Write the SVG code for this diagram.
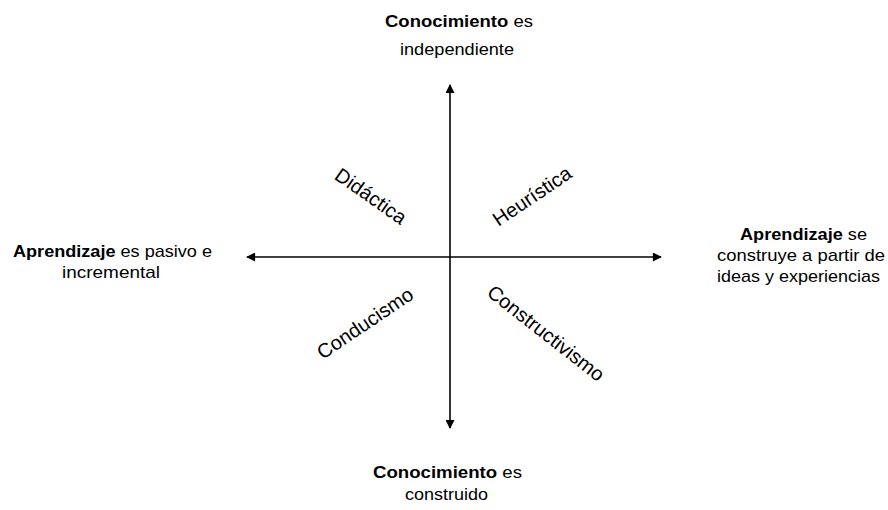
<svg xmlns="http://www.w3.org/2000/svg" width="888" height="510" viewBox="0 0 888 510">
<style>
text{font-family:"Liberation Sans",Arial,sans-serif;fill:#000}
.lbl{font-size:17px}
.b{font-weight:bold}
.q{font-size:20px;text-anchor:middle}
.ax{stroke:#000;stroke-width:1.6;fill:none}
</style>
<defs>
<marker id="ah" viewBox="0 0 10 10" refX="9" refY="5" markerWidth="10" markerHeight="9" markerUnits="userSpaceOnUse" orient="auto">
<path d="M0,0 L10,5 L0,10 Z" fill="#000"/>
</marker>
</defs>
<rect width="888" height="510" fill="#fff"/>
<g id="connectors">
<line class="ax" x1="450" y1="257" x2="450" y2="85" marker-end="url(#ah)"/>
<line class="ax" x1="450" y1="257" x2="450" y2="428" marker-end="url(#ah)"/>
<line class="ax" x1="450" y1="257" x2="247" y2="257" marker-end="url(#ah)"/>
<line class="ax" x1="450" y1="257" x2="661" y2="257" marker-end="url(#ah)"/>
</g>
<g id="top">
<text class="lbl" x="385" y="27" textLength="148" lengthAdjust="spacingAndGlyphs"><tspan class="b">Conocimiento</tspan>  es</text>
<text class="lbl" x="400" y="55" textLength="114" lengthAdjust="spacingAndGlyphs">independiente</text>
</g>
<g id="bottom">
<text class="lbl" x="373" y="478" textLength="149" lengthAdjust="spacingAndGlyphs"><tspan class="b">Conocimiento</tspan>  es</text>
<text class="lbl" x="405" y="500" textLength="83" lengthAdjust="spacingAndGlyphs">construido</text>
</g>
<g id="left">
<text class="lbl" x="13" y="257" textLength="199" lengthAdjust="spacingAndGlyphs"><tspan class="b">Aprendizaje</tspan> es pasivo e</text>
<text class="lbl" x="62" y="278" textLength="98" lengthAdjust="spacingAndGlyphs">incremental</text>
</g>
<g id="right">
<text class="lbl" x="740" y="240" textLength="127" lengthAdjust="spacingAndGlyphs"><tspan class="b">Aprendizaje</tspan> se</text>
<text class="lbl" x="717" y="261" textLength="168" lengthAdjust="spacingAndGlyphs">construye a partir de</text>
<text class="lbl" x="717" y="282" textLength="163" lengthAdjust="spacingAndGlyphs">ideas y experiencias</text>
</g>
<g id="didactica">
<text class="q" transform="translate(371,196) rotate(35)" dy="0.35em">Didáctica</text>
</g>
<g id="heuristica">
<text class="q" transform="translate(532,196) rotate(-34)" dy="0.35em">Heurística</text>
</g>
<g id="conducismo">
<text class="q" transform="translate(365,323) rotate(-34)" dy="0.35em">Conducismo</text>
</g>
<g id="constructivismo">
<text class="q" transform="translate(546,333) rotate(38)" dy="0.35em">Constructivismo</text>
</g>
</svg>
